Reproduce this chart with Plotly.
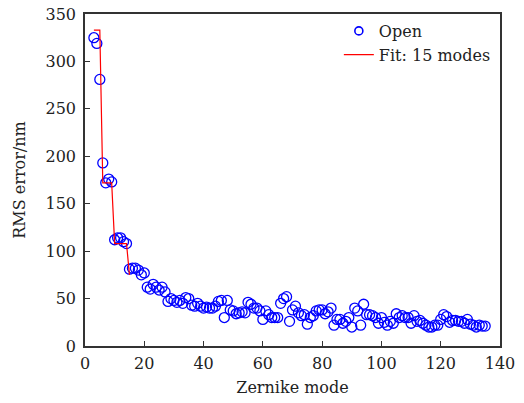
import plotly.graph_objects as go

modes = list(range(3, 136))
rms_open = [325, 319, 281, 193, 172, 176, 173, 112, 114, 114, 110, 108,
            81, 82, 82, 80, 75, 77, 62, 60, 65, 62, 59, 62, 57, 47, 50, 48,
            46, 48, 45, 51, 50, 43, 42, 45, 42, 40, 41, 40, 40, 42, 47, 48,
            30, 48, 38, 37, 34, 35, 36, 35, 46, 44, 40, 40, 37, 28, 37, 33,
            30, 30, 30, 45, 50, 52, 26, 38, 42, 35, 32, 33, 23, 30, 32, 37,
            38, 38, 34, 36, 40, 22, 28, 28, 24, 26, 30, 20, 40, 37, 22, 44,
            33, 33, 32, 30, 24, 30, 25, 22, 26, 24, 34, 30, 32, 30, 30, 24,
            32, 26, 27, 24, 22, 20, 20, 22, 22, 28, 33, 31, 25, 27, 27, 26,
            26, 24, 28, 23, 22, 20, 22, 21, 21]
modes = modes[:len(rms_open)]

fit_modes = [3, 4, 5, 6, 7, 8, 9, 10, 11, 12, 13, 14, 15]
fit_vals = [333, 333, 333, 172, 172, 172, 172, 108, 108, 108, 108, 108, 75]

x_ticks = [0, 20, 40, 60, 80, 100, 120, 140]
y_ticks = [0, 50, 100, 150, 200, 250, 300, 350]

FONT = "DejaVu Serif"
FS = 16
BLUE = "#0000ff"

fig = go.Figure()
fig.add_trace(go.Scatter(
    x=modes, y=rms_open, mode="markers", name="Open", showlegend=False,
    marker=dict(symbol="circle-open", size=10, color=BLUE,
                line=dict(width=1.3, color=BLUE)),
))
# legend entry with smaller symbol, as in the reference
fig.add_trace(go.Scatter(
    x=[None], y=[None], mode="markers", name="Open",
    marker=dict(symbol="circle-open", size=8, color=BLUE,
                line=dict(width=1.6, color=BLUE)),
))
fig.add_trace(go.Scatter(
    x=fit_modes, y=fit_vals, mode="lines", name="Fit: 15 modes",
    line=dict(color="#ff0000", width=1.2),
))

axis_common = dict(
    showline=True, linecolor="#333333", linewidth=1.5, mirror=True,
    ticks="inside", ticklen=5, tickwidth=1.2, tickcolor="#333333",
    showgrid=False, zeroline=False, automargin=False,
    tickfont=dict(family=FONT, size=FS, color="#222222"),
)

fig.update_layout(
    width=524, height=403,
    margin=dict(l=85, r=24, t=14, b=57),
    paper_bgcolor="white", plot_bgcolor="white",
    font=dict(family=FONT, size=FS, color="#222222"),
    xaxis=dict(range=[0, 140], tickvals=x_ticks, ticklabelstandoff=2,
               title=dict(text="Zernike mode", standoff=10,
                          font=dict(family=FONT, size=FS)),
               **axis_common),
    yaxis=dict(range=[0, 350], tickvals=y_ticks, ticklabelstandoff=4,
               title=dict(text="RMS error/nm", standoff=16,
                          font=dict(family=FONT, size=FS)),
               **axis_common),
    legend=dict(x=0.99, y=1.0, xanchor="right", yanchor="top",
                bgcolor="rgba(0,0,0,0)", borderwidth=0,
                font=dict(family=FONT, size=FS), tracegroupgap=0,
                itemwidth=30),
    showlegend=True,
)

fig.write_html("out.html")
